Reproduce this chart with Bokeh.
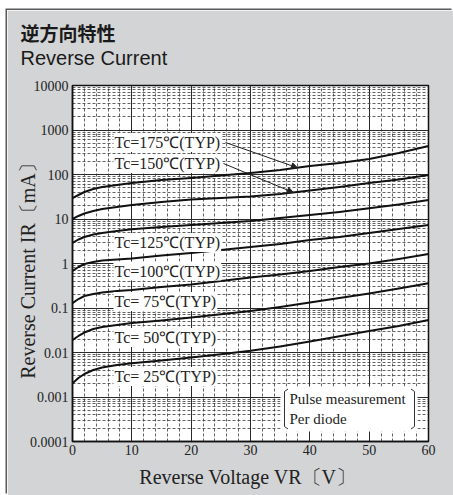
import numpy as np
from bokeh.plotting import figure
from bokeh.models import Range1d, FixedTicker, Label, Arrow, NormalHead, BoxAnnotation, Title
from bokeh.embed import file_html
from bokeh.resources import INLINE

# ---------------- data ----------------
VR = [0, 1, 2, 3.5, 5, 7.5, 10, 15, 20, 25, 30, 35, 40, 45, 50, 55, 60]
IR_175 = [29.6, 34.6, 40.4, 47.2, 52.4, 58.1, 64.4, 75.2, 83.4, 95, 108, 126, 155, 181, 223, 304, 437]
IR_150 = [10.0, 11.7, 13.3, 15.1, 16.8, 18.6, 20.6, 24.1, 27.4, 29.6, 32.1, 36.5, 43.7, 52.4, 64.4, 77.2, 97.5]
IR_125 = [2.89, 3.46, 3.94, 4.49, 4.84, 5.37, 5.87, 6.61, 7.33, 8.13, 9.01, 10.5, 12.3, 14.4, 17.4, 21.2, 26.7]
IR_100 = [0.678, 0.834, 0.975, 1.08, 1.17, 1.23, 1.30, 1.51, 1.72, 2.01, 2.35, 2.74, 3.37, 3.94, 4.84, 5.96, 7.33]
IR_75 = [0.129, 0.159, 0.186, 0.207, 0.223, 0.241, 0.254, 0.296, 0.337, 0.404, 0.484, 0.566, 0.678, 0.834, 1.0, 1.26, 1.63]
IR_50 = [0.0191, 0.0235, 0.0281, 0.0337, 0.0374, 0.0415, 0.0460, 0.0524, 0.0612, 0.0721, 0.0857, 0.105, 0.133, 0.168, 0.212, 0.274, 0.359]
IR_25 = [0.00203, 0.00267, 0.00329, 0.00405, 0.00460, 0.00524, 0.00571, 0.00661, 0.00773, 0.00912, 0.0109, 0.0137, 0.0177, 0.0231, 0.0304, 0.0394, 0.0537]

SERIES = [IR_175, IR_150, IR_125, IR_100, IR_75, IR_50, IR_25]
SERIES_LABELS = ["Tc=175℃(TYP)", "Tc=150℃(TYP)", "Tc=125℃(TYP)", "Tc=100℃(TYP)",
                 "Tc= 75℃(TYP)", "Tc= 50℃(TYP)", "Tc= 25℃(TYP)"]

X_TICKS = [0, 10, 20, 30, 40, 50, 60]
X_MINOR = [v for v in range(2, 60, 2) if v % 10]
Y_TICKS = [0.0001, 0.001, 0.01, 0.1, 1, 10, 100, 1000, 10000]
Y_TICK_LABELS = ["0.0001", "0.001", "0.01", "0.1", "1", "10", "100", "1000", "10000"]
Y_MINOR = [m * 10.0 ** e for e in range(-4, 4) for m in range(2, 10)]

TITLE_JA = "逆方向特性"
TITLE_EN = "Reverse Current"
X_LABEL = "Reverse Voltage  VR〔V〕"
Y_LABEL = "Reverse Current  IR〔mA〕"
NOTE_LINES = ["Pulse measurement", "Per diode"]

# ---------------- layout (page pixels) ----------------
ML, MT = 7, 10                 # white margin around the grey panel
W, H = 453 - ML, 495 - MT
FL, FT, FW, FH = 72, 85, 356, 356   # frame in page pixels
X0, X1 = 0, 60
Y0, Y1 = 1e-4, 1e4


def dx(px):
    return X0 + (px - FL) / FW * (X1 - X0)


def dy(py):
    return 10 ** (np.log10(Y0) + (FT + FH - py) / FH * (np.log10(Y1) - np.log10(Y0)))


p = figure(width=W, height=H, output_backend="svg", toolbar_location=None,
           y_axis_type="log", x_range=Range1d(X0, X1), y_range=Range1d(Y0, Y1),
           min_border_left=FL - ML, min_border_top=FT - MT,
           min_border_right=W - (FL - ML) - FW, min_border_bottom=H - (FT - MT) - FH,
           margin=(MT, 0, 0, ML))
p.styles = {"box-shadow": "-1.5px -1.5px 0px 0px #5a5a5a"}

p.background_fill_color = "white"
p.border_fill_color = "#d3d4d6"
p.outline_line_color = "#111111"
p.outline_line_width = 1.5

p.xaxis.ticker = FixedTicker(ticks=X_TICKS, minor_ticks=X_MINOR)
p.yaxis.ticker = FixedTicker(ticks=Y_TICKS, minor_ticks=Y_MINOR)
p.yaxis.major_label_overrides = {t: s for t, s in zip(Y_TICKS, Y_TICK_LABELS)}

for ax in (p.xaxis, p.yaxis):
    ax.major_tick_in = 0
    ax.major_tick_out = 0
    ax.minor_tick_in = 0
    ax.minor_tick_out = 0
    ax.axis_line_color = "#111111"
    ax.axis_line_width = 1.5
    ax.major_label_text_font = "Liberation Serif"
    ax.major_label_text_font_size = "14px"
    ax.major_label_text_color = "#222222"
    ax.axis_label_text_font = "Liberation Serif"
    ax.axis_label_text_font_size = "20px"
    ax.axis_label_text_font_style = "normal"
    ax.axis_label_text_color = "#222222"
p.xaxis.major_label_standoff = 3
p.yaxis.major_label_standoff = 4
p.xaxis.axis_label = X_LABEL
p.yaxis.axis_label = Y_LABEL
p.xaxis.axis_label_standoff = 8
p.yaxis.axis_label_standoff = -12

for g in (p.xgrid, p.ygrid):
    g.grid_line_color = "#2a2a2a"
    g.grid_line_width = 1
    g.minor_grid_line_color = "#3a3a3a"
    g.minor_grid_line_width = 0.8
    g.minor_grid_line_dash = "3 2"

# curves
for ys in SERIES:
    p.line(VR, ys, line_color="#111111", line_width=2, line_join="round")

# note box (white background + brackets)
p.add_layout(BoxAnnotation(left=dx(280), right=dx(417), top=dy(386), bottom=dy(431),
                           fill_color="white", fill_alpha=1, line_alpha=0))


def seg(x0, y0, x1, y1, w=1.0, c="#333333"):
    p.add_layout(Arrow(end=None, x_start=dx(x0), y_start=dy(y0), x_end=dx(x1), y_end=dy(y1),
                       line_color=c, line_width=w))


for (a, b, c_, d) in [(287.5, 388.5, 284, 391), (284, 391, 284, 426), (284, 426, 287.5, 428.5),
                      (410.5, 388.5, 414, 391), (414, 391, 414, 426), (414, 426, 410.5, 428.5)]:
    seg(a, b, c_, d)

for txt, py in zip(NOTE_LINES, [398.5, 418.5]):
    p.add_layout(Label(x=dx(289), y=dy(py), text=txt, text_font="Liberation Serif",
                       text_font_size="15px", text_color="#222222",
                       text_align="left", text_baseline="middle"))

# curve labels
LABEL_Y = [142, 163, 242, 270.5, 301, 337, 376]
for txt, py in zip(SERIES_LABELS, LABEL_Y):
    p.add_layout(Label(x=dx(113), y=dy(py), text=txt, text_font="Liberation Serif",
                       text_font_size="16px", text_color="#222222",
                       text_align="left", text_baseline="middle",
                       background_fill_color="white", padding=1))

# arrows from labels to curves
for (sx, sy, v_end, ys) in [(225, 142, 37.9, IR_175), (223, 163, 37.2, IR_150)]:
    y_end = 10 ** np.interp(v_end, VR, np.log10(ys))
    p.add_layout(Arrow(end=NormalHead(size=6, fill_color="#222222", line_color="#222222", line_width=1),
                       x_start=dx(sx), y_start=dy(sy), x_end=v_end, y_end=y_end,
                       line_color="#222222", line_width=1))

# titles (first added is nearest to the frame); a tiny spacer keeps a gap above the frame
p.add_layout(Title(text=" ", text_font_size="1px", standoff=12), "above")
p.add_layout(Title(text=TITLE_EN, text_font="Liberation Sans", text_font_size="20px",
                   text_font_style="normal", text_color="#1a1a1a", align="left",
                   offset=-(FL - 20), standoff=4), "above")
p.add_layout(Title(text=TITLE_JA, text_font="Noto Sans CJK JP", text_font_size="19px",
                   text_font_style="bold", text_color="#1a1a1a", align="left",
                   offset=-(FL - 20), standoff=-7), "above")

open("out.html", "w").write(file_html(p, INLINE))
